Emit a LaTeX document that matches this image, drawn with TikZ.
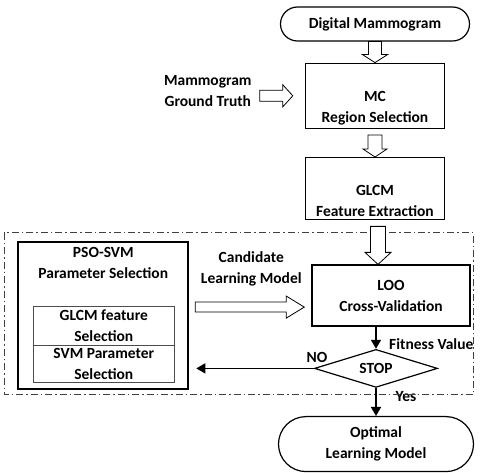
\documentclass[tikz,border=0pt]{standalone}
\usepackage{fontspec}
\setmainfont{Carlito}
\usepackage{tikz}
\usetikzlibrary{shapes.geometric, shapes.misc, arrows.meta, positioning, calc}

% hollow block arrow: tail, tip, shaft half width, head half width, head length
\newcommand{\hollowarrow}[5]{%
    \coordinate (ha-t) at (#1);
    \coordinate (ha-p) at (#2);
    \coordinate (ha-h) at ($(ha-p)!#5!(ha-t)$);
    \draw[hollow] ($(ha-t)!#3!90:(ha-p)$) -- ($(ha-h)!#3!-90:(ha-t)$) -- ($(ha-h)!#4!-90:(ha-t)$)
        -- (ha-p) -- ($(ha-h)!#4!90:(ha-t)$) -- ($(ha-h)!#3!90:(ha-t)$) -- ($(ha-t)!#3!-90:(ha-p)$) -- cycle;
}

\begin{document}
\begin{tikzpicture}[
    x=1pt, y=-1pt,
    every node/.style={font=\bfseries\fontsize{15.5}{21}\selectfont},
    terminal/.style={rounded rectangle, draw, line width=1.2pt, inner sep=0pt, align=center},
    block/.style={rectangle, draw, line width=1.4pt, inner sep=0pt, align=center, minimum width=139pt},
    inbox/.style={rectangle, draw=black!70, line width=1pt, inner sep=0pt, outer sep=0pt, align=center, minimum width=141pt},
    decision/.style={diamond, draw, line width=1.2pt, inner sep=0pt, aspect=3.2, minimum width=123pt, minimum height=38pt},
    note/.style={inner sep=0pt, align=center},
    hollow/.style={draw, line width=0.8pt, fill=white},
    arrow/.style={-{Triangle[length=9pt,width=10pt]}, line width=1.5pt},
    frame/.style={draw=black!75, line width=1pt, dash pattern=on 7pt off 3pt on 1.5pt off 3pt}
]
    \useasboundingbox (0,0) rectangle (480,473);

    \node[terminal, minimum width=189pt, minimum height=34pt] (dm) at (375,24) {Digital Mammogram};
    \node[block, minimum height=65pt, below=21pt of dm] (mc) {\strut\\MC\\Region Selection};
    \node[block, minimum height=62pt, below=28pt of mc] (glcm) {\strut\\GLCM\\Feature Extraction};
    \node[block, minimum width=158pt, minimum height=61pt, below=44pt of glcm, xshift=16pt] (loo) {LOO\\Cross-Validation};
    \node[decision, below=22pt of loo, xshift=-15pt] (stop) {STOP};
    \node[terminal, minimum width=195pt, minimum height=55pt, below=28pt of stop] (opt) {Optimal\\Learning Model};

    \node[note, left=53pt of mc, yshift=4.5pt] (gt) {Mammogram\\Ground Truth};

    % PSO-SVM block
    \node[rectangle, draw, line width=2pt, minimum width=170pt, minimum height=147pt, left=122pt of loo, yshift=-20pt] (pso) {};
    \node[note] (psot) at ($(pso.north)+(0,21.5)$) {PSO-SVM\\Parameter Selection};
    \node[inbox, minimum height=39pt] (gfs) at ($(pso.center)+(0.5,10)$) {GLCM feature\\Selection};
    \node[inbox, minimum height=37pt, below=0pt of gfs] (svmp) {SVM Parameter\\Selection};

    \node[note] (cand) at ($(pso.north east)!0.5!(loo.north west)+(1,16.5)$) {Candidate\\Learning Model};
    \node[note, anchor=west] (fitv) at ($(stop.north)+(13,-5)$) {Fitness Value};
    \node[note] (no) at ($(stop.west)+(3,-11)$) {NO};
    \node[note] (yes) at ($(stop.south)+(30,9)$) {Yes};

    \draw[frame] (4,233) rectangle (473,395);

    % block arrows
    \hollowarrow{dm.south}{mc.north}{6.5pt}{12.5pt}{8pt}
    \coordinate (mcout) at ($(mc.south)+(0,6)$);
    \hollowarrow{mcout}{glcm.north}{7pt}{12pt}{8pt}
    \coordinate (glcmout) at ($(glcm.south)+(3,6)$);
    \coordinate (looin) at (glcmout |- loo.north);
    \hollowarrow{glcmout}{looin}{7.5pt}{13pt}{12pt}
    \coordinate (gtout) at ($(gt.east |- mc.west)+(8,0)$);
    \coordinate (mcin) at ($(mc.west)+(-12,0)$);
    \hollowarrow{gtout}{mcin}{5.5pt}{11pt}{10pt}
    \coordinate (candout) at ($(pso.east)+(6,-8.5)$);
    \coordinate (candin) at ($(loo.west |- candout)+(-7,0)$);
    \hollowarrow{candout}{candin}{5pt}{11pt}{18pt}

    % decision arrows
    \coordinate (noend) at ($(pso.east |- stop.west)+(7,0)$);
    \draw[arrow] (stop.north |- loo.south) -- (stop.north);
    \draw[arrow] (stop.south) -- (opt.north);
    \draw[arrow] (stop.west) -- (noend);
\end{tikzpicture}
\end{document}
